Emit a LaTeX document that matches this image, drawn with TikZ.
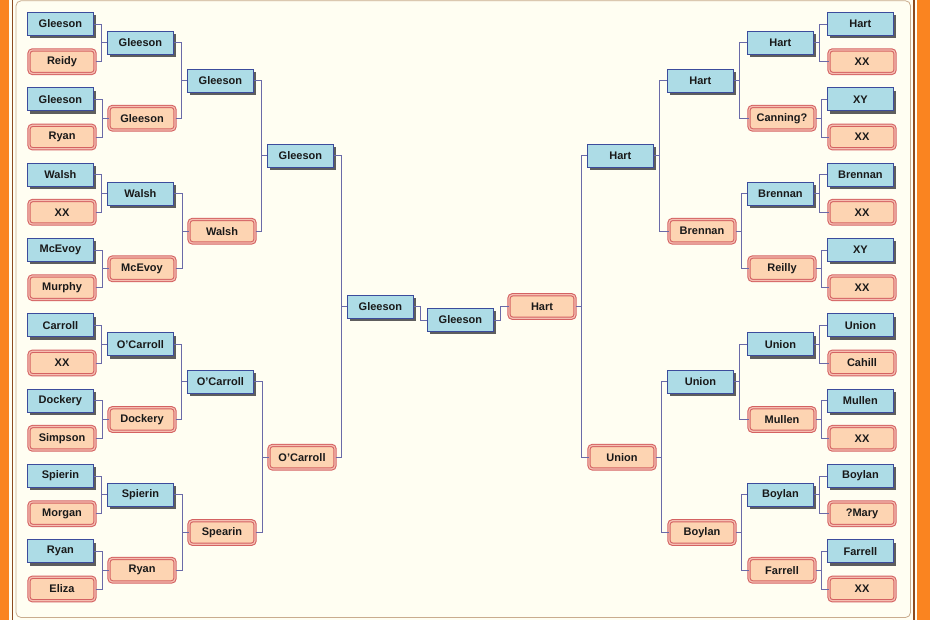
\documentclass[tikz,border=0pt]{standalone}
\usepackage{fontspec}
\setmainfont{Liberation Sans}
\usetikzlibrary{shadows}
\definecolor{cream}{HTML}{FFFEF2}
\definecolor{orangebar}{HTML}{FA8420}
\definecolor{brownline}{HTML}{8C4A1E}
\definecolor{framecol}{HTML}{C9AC8E}
\definecolor{bluefill}{HTML}{ADDCE6}
\definecolor{blueedge}{HTML}{3C4C9C}
\definecolor{shadowcol}{HTML}{5E5E5E}
\definecolor{peach}{HTML}{FDD4B2}
\definecolor{pinkedge}{HTML}{D46262}
\definecolor{pinkring}{HTML}{F5BFB2}
\definecolor{conncol}{HTML}{6A6AA8}
\tikzset{
  boxbase/.style={anchor=west, minimum width=66pt, minimum height=23pt, inner sep=0pt,
    font=\fontsize{11}{13}\selectfont\bfseries, text=black!90},
  bl/.style={boxbase, rectangle, fill=bluefill, draw=blueedge, line width=0.8pt,
    drop shadow={shadow xshift=3pt, shadow yshift=-3pt, fill=shadowcol, opacity=1}},
  pk/.style={boxbase, xshift=1.5pt, minimum height=23.5pt, rounded corners=3.5pt, fill=peach, draw=pinkedge,
    line width=1.05pt, double=pinkring, double distance=1.2pt},
  conn/.style={draw=conncol, line width=0.7pt},
}
\begin{document}
\begin{tikzpicture}[x=1pt, y=-1pt]
\useasboundingbox (0,0) rectangle (930,620);
% frame
\fill[cream] (0,0) rectangle (930,620);
\fill[orangebar] (0,0) rectangle (9,620);
\fill[orangebar] (917,0) rectangle (930,620);
\draw[brownline, line width=1.3pt] (12.5,0) -- (12.5,620);
\draw[brownline, line width=1.3pt] (914,0) -- (914,620);
\draw[framecol, line width=0.8pt, rounded corners=5pt] (16,0.8) rectangle (910.5,617.5);

% left round 1
\node[bl] (a0) at (27,24) {Gleeson};
\node[pk] (a1) at (27,61.7) {Reidy};
\node[bl] (a2) at (27,99.3) {Gleeson};
\node[pk] (a3) at (27,137) {Ryan};
\node[bl] (a4) at (27,174.7) {Walsh};
\node[pk] (a5) at (27,212.3) {XX};
\node[bl] (a6) at (27,250) {McEvoy};
\node[pk] (a7) at (27,287.7) {Murphy};
\node[bl] (a8) at (27,325.3) {Carroll};
\node[pk] (a9) at (27,363) {XX};
\node[bl] (a10) at (27,400.7) {Dockery};
\node[pk] (a11) at (27,438.3) {Simpson};
\node[bl] (a12) at (27,476) {Spierin};
\node[pk] (a13) at (27,513.7) {Morgan};
\node[bl] (a14) at (27,551.3) {Ryan};
\node[pk] (a15) at (27,589) {Eliza};
% left round 2
\node[bl] (b0) at (107,42.8) {Gleeson};
\node[pk] (b1) at (107,118.2) {Gleeson};
\node[bl] (b2) at (107,193.5) {Walsh};
\node[pk] (b3) at (107,268.8) {McEvoy};
\node[bl] (b4) at (107,344.2) {O'Carroll};
\node[pk] (b5) at (107,419.5) {Dockery};
\node[bl] (b6) at (107,494.8) {Spierin};
\node[pk] (b7) at (107,570.2) {Ryan};
% left round 3
\node[bl] (c0) at (187,80.5) {Gleeson};
\node[pk] (c1) at (187,231.2) {Walsh};
\node[bl] (c2) at (187,381.8) {O'Carroll};
\node[pk] (c3) at (187,532.5) {Spearin};
% left round 4
\node[bl] (d0) at (267,155.8) {Gleeson};
\node[pk] (d1) at (267,457.2) {O'Carroll};
% left round 5
\node[bl] (e0) at (347,306.5) {Gleeson};
% final
\node[bl] (f) at (427,320) {Gleeson};
% right round 5
\node[pk] (g) at (507,306.5) {Hart};
% right round 4
\node[bl] (h0) at (587,155.8) {Hart};
\node[pk] (h1) at (587,457.2) {Union};
% right round 3
\node[bl] (i0) at (667,80.5) {Hart};
\node[pk] (i1) at (667,231.2) {Brennan};
\node[bl] (i2) at (667,381.8) {Union};
\node[pk] (i3) at (667,532.5) {Boylan};
% right round 2
\node[bl] (j0) at (747,42.8) {Hart};
\node[pk] (j1) at (747,118.2) {Canning?};
\node[bl] (j2) at (747,193.5) {Brennan};
\node[pk] (j3) at (747,268.8) {Reilly};
\node[bl] (j4) at (747,344.2) {Union};
\node[pk] (j5) at (747,419.5) {Mullen};
\node[bl] (j6) at (747,494.8) {Boylan};
\node[pk] (j7) at (747,570.2) {Farrell};
% right round 1
\node[bl] (k0) at (827,24) {Hart};
\node[pk] (k1) at (827,61.7) {XX};
\node[bl] (k2) at (827,99.3) {XY};
\node[pk] (k3) at (827,137) {XX};
\node[bl] (k4) at (827,174.7) {Brennan};
\node[pk] (k5) at (827,212.3) {XX};
\node[bl] (k6) at (827,250) {XY};
\node[pk] (k7) at (827,287.7) {XX};
\node[bl] (k8) at (827,325.3) {Union};
\node[pk] (k9) at (827,363) {Cahill};
\node[bl] (k10) at (827,400.7) {Mullen};
\node[pk] (k11) at (827,438.3) {XX};
\node[bl] (k12) at (827,476) {Boylan};
\node[pk] (k13) at (827,513.7) {?Mary};
\node[bl] (k14) at (827,551.3) {Farrell};
\node[pk] (k15) at (827,589) {XX};

% left connectors
\foreach \p/\q/\t in {a0/a1/b0, a2/a3/b1, a4/a5/b2, a6/a7/b3, a8/a9/b4, a10/a11/b5, a12/a13/b6, a14/a15/b7,
  b0/b1/c0, b2/b3/c1, b4/b5/c2, b6/b7/c3, c0/c1/d0, c2/c3/d1, d0/d1/e0} {
  \draw[conn] (\p.east) -| ([xshift=-6pt]\t.west) -- (\t.west);
  \draw[conn] (\q.east) -| ([xshift=-6pt]\t.west);
}
% right connectors
\foreach \p/\q/\t in {k0/k1/j0, k2/k3/j1, k4/k5/j2, k6/k7/j3, k8/k9/j4, k10/k11/j5, k12/k13/j6, k14/k15/j7,
  j0/j1/i0, j2/j3/i1, j4/j5/i2, j6/j7/i3, i0/i1/h0, i2/i3/h1, h0/h1/g} {
  \draw[conn] (\p.west) -| ([xshift=6pt]\t.east) -- (\t.east);
  \draw[conn] (\q.west) -| ([xshift=6pt]\t.east);
}
% final connectors
\draw[conn] (e0.east) -| ([xshift=-7pt]f.west) -- (f.west);
\draw[conn] (g.west) -| ([xshift=7pt]f.east) -- (f.east);
\end{tikzpicture}
\end{document}
